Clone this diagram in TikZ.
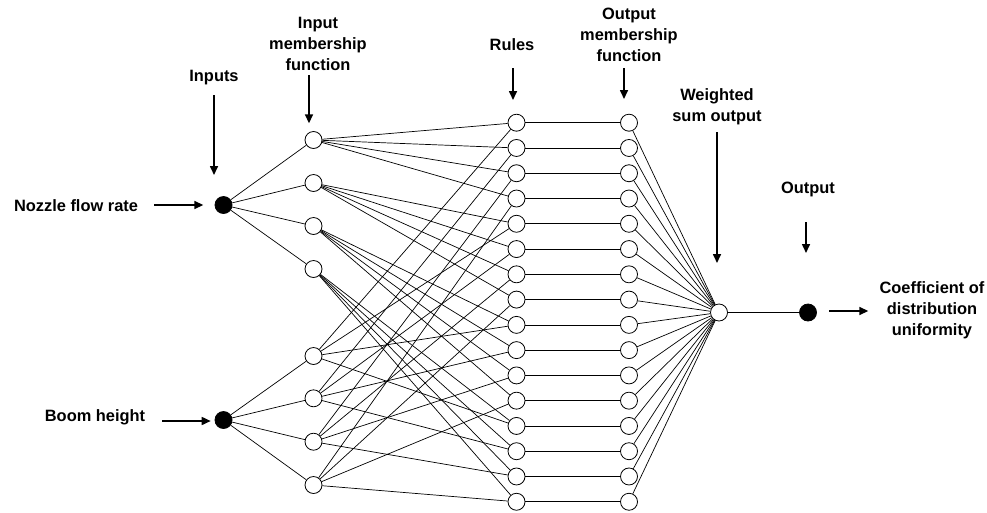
\documentclass[tikz,border=0pt]{standalone}
\usepackage{fontspec}
\setmainfont{Liberation Sans}
\usetikzlibrary{arrows.meta}
\begin{document}
\begin{tikzpicture}[x=1pt,y=-1pt,
  neuron/.style={circle,draw=black,line width=0.8pt,fill=white,minimum size=17pt,inner sep=0pt},
  solid neuron/.style={circle,draw=black,fill=black,line width=0.8pt,minimum size=17pt,inner sep=0pt},
  lbl/.style={font=\fontsize{16.4}{20.8}\selectfont\bfseries,align=center,inner sep=0pt},
  pointer/.style={line width=1.6pt,-{Triangle[length=9pt,width=8pt]}},
  link/.style={line width=0.7pt}]
\useasboundingbox (0,0) rectangle (987,512);

% layer nodes
\node[solid neuron] (x1) at (223.5,205) {};
\node[solid neuron] (x2) at (223.5,420) {};
\foreach \y [count=\i] in {140,183,226,269,356,398.3,441.7,485}
  \node[neuron] (m\i) at (313.5,\y) {};
\foreach \i in {1,...,16} {
  \node[neuron] (r\i) at (516.5,{122.7+(\i-1)*25.27}) {};
  \node[neuron] (o\i) at (629,{122.7+(\i-1)*25.27}) {};
}
\node[neuron] (w) at (719,312.5) {};
\node[solid neuron] (out) at (808,312.5) {};

% connections
\foreach \i in {1,...,4} \draw[link] (x1) -- (m\i);
\foreach \i in {5,...,8} \draw[link] (x2) -- (m\i);
\foreach \a in {1,...,4} {
  \foreach \b in {1,...,4} {
    \pgfmathtruncatemacro\rr{(\a-1)*4+\b}
    \pgfmathtruncatemacro\mb{\b+4}
    \draw[link] (m\a) -- (r\rr);
    \draw[link] (m\mb) -- (r\rr);
  }
}
\foreach \i in {1,...,16} {
  \draw[link] (r\i) -- (o\i);
  \draw[link] (o\i) -- (w);
}
\draw[link] (w) -- (out);

% labels
\node[lbl,anchor=base] (tInputs) at (214,81) {Inputs};
\node[lbl] (tInMF) at (318,44) {Input\\membership\\function};
\node[lbl,anchor=base] (tRules) at (512,50.7) {Rules};
\node[lbl] (tOutMF) at (629,35) {Output\\membership\\function};
\node[lbl] (tWsum) at (717,106.5) {Weighted\\sum output};
\node[lbl,anchor=base] (tOutput) at (808,193.3) {Output};
\node[lbl,anchor=base] (tNozzle) at (76,211.5) {Nozzle flow rate};
\node[lbl,anchor=base] (tBoom) at (95,421.7) {Boom height};
\node[lbl] (tCoef) at (932,310) {Coefficient of\\distribution\\uniformity};

% pointer arrows
\coordinate (p1s) at (214,95);   \coordinate (p1e) at (214,175);
\coordinate (p2s) at (309,75);   \coordinate (p2e) at (309,123.3);
\coordinate (p3s) at (513,68);   \coordinate (p3e) at (513,100);
\coordinate (p4s) at (624,68);   \coordinate (p4e) at (624,99);
\coordinate (p5s) at (717,132);  \coordinate (p5e) at (717,263);
\coordinate (p6s) at (806,222);  \coordinate (p6e) at (806,253);
\coordinate (p7s) at (154,205);  \coordinate (p7e) at (203.3,205);
\coordinate (p8s) at (162.3,421);\coordinate (p8e) at (210.7,421);
\coordinate (p9s) at (829.3,311);\coordinate (p9e) at (868.3,311);
\foreach \k in {1,...,9} \draw[pointer] (p\k s) -- (p\k e);
\end{tikzpicture}
\end{document}
